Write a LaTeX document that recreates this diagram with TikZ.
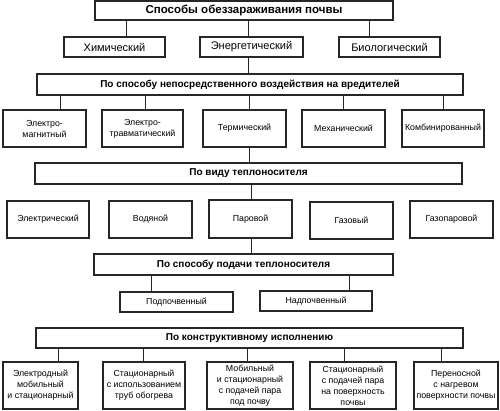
\documentclass[tikz,border=0pt]{standalone}
\usepackage{fontspec}
\setmainfont{Liberation Sans}
\tikzset{
  box/.style={draw=black!85, line width=1.1pt, inner sep=1pt, align=center, font=\fontsize{8.8}{11}\selectfont},
  titlebox/.style={box, font=\fontsize{11.5}{14}\selectfont\bfseries},
  midbox/.style={box, font=\fontsize{11}{13}\selectfont},
  headbox/.style={box, font=\fontsize{10}{12}\selectfont\bfseries},
  conn/.style={draw=black!85, line width=1pt}
}
\newcommand\bx[7][]{\node[box,#1,minimum width={(#4-#3)*1pt},minimum height={(#6-#5)*1pt}] (#2) at ({(#3+#4)/2},{(#5+#6)/2}) {#7};}
\newcommand\cn[4]{\coordinate (#4) at (#3,0); \draw[conn] (#1.south -| #4) -- (#2.north -| #4);}
\begin{document}
\begin{tikzpicture}[x=1pt,y=-1pt]
\useasboundingbox (0,0) rectangle (500,411);
% level 1
\bx[titlebox]{title}{95}{393}{1}{20}{Способы обеззараживания почвы}
\bx[midbox]{him}{64}{165}{37}{57}{Химический}
\bx[midbox]{energ}{200}{303}{37}{57}{Энергетический}
\bx[midbox]{bio}{339}{440}{37}{57}{Биологический}
% header 1
\bx[headbox]{hA}{37}{463}{74}{95}{По способу непосредственного воздействия на вредителей}
\bx{ra}{3}{86}{110}{147}{Электро-\\магнитный}
\bx{rb}{102}{183}{110}{147}{Электро-\\травматический}
\bx{rc}{203}{286}{110}{147}{Термический}
\bx{rd}{302}{385}{110}{147}{Механический}
\bx{re}{402}{484}{110}{147}{Комбинированный}
% header 2
\bx[headbox]{hB}{35}{462}{163}{184}{По виду теплоносителя}
\bx{sa}{7}{89}{201}{238}{Электрический}
\bx{sb}{109}{192}{201}{238}{Водяной}
\bx{sc}{209}{292}{200}{238}{Паровой}
\bx{sd}{310}{393}{202}{239}{Газовый}
\bx{se}{410}{493}{201}{238}{Газопаровой}
% header 3
\bx[headbox]{hC}{94}{393}{254}{275}{По способу подачи теплоносителя}
\bx{pa}{120}{233}{292}{312}{Подпочвенный}
\bx{pb}{260}{372}{291}{311}{Надпочвенный}
% header 4
\bx[headbox]{hD}{36}{463}{328}{348}{По конструктивному исполнению}
\bx{ka}{3}{78}{362}{409}{Электродный\\мобильный\\и стационарный}
\bx{kb}{103}{185}{362}{409}{Стационарный\\с использованием\\труб обогрева}
\bx{kc}{207}{293}{362}{409}{Мобильный\\и стационарный\\с подачей пара\\под почву}
\bx{kd}{310}{396}{362}{409}{Стационарный\\с подачей пара\\на поверхность\\почвы}
\bx{ke}{414}{498}{362}{409}{Переносной\\с нагревом\\поверхности почвы}
% connectors
\cn{title}{him}{126}{c1}
\cn{title}{energ}{248}{c2}
\cn{title}{bio}{369}{c3}
\cn{energ}{hA}{248}{c4}
\cn{hA}{ra}{60}{c5}
\cn{hA}{rb}{145}{c6}
\cn{hA}{rc}{249}{c7}
\cn{hA}{rd}{343}{c8}
\cn{hA}{re}{443}{c9}
\cn{rc}{hB}{249}{c10}
\cn{hB}{sc}{251}{c11}
\cn{sc}{hC}{251}{c12}
\cn{hC}{pa}{151}{c13}
\cn{hC}{pb}{349}{c14}
\cn{hD}{ka}{58}{c15}
\cn{hD}{kb}{143}{c16}
\cn{hD}{kc}{247}{c17}
\cn{hD}{kd}{344}{c18}
\cn{hD}{ke}{441}{c19}
\end{tikzpicture}
\end{document}
